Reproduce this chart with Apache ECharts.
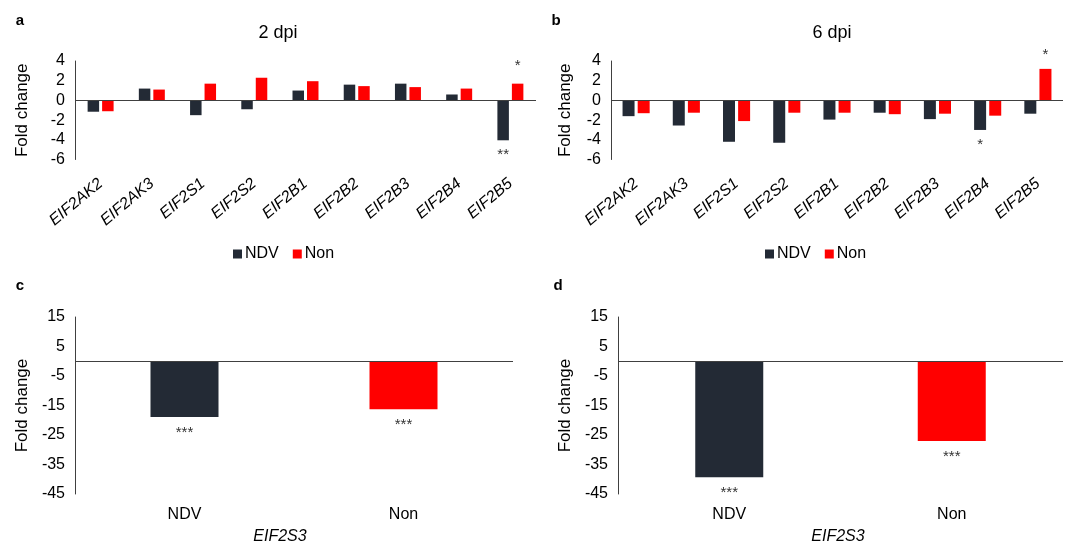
<!DOCTYPE html>
<html>
<head>
<meta charset="utf-8">
<script src="https://cdn.jsdelivr.net/npm/echarts@6/dist/echarts.min.js"></script>
<style>
  html, body { margin: 0; padding: 0; background: #fff; }
  #chart { width: 1070px; height: 546px; }
</style>
</head>
<body>
<div id="chart"></div>
<script>
// ---- data ----
const genes = ['EIF2AK2', 'EIF2AK3', 'EIF2S1', 'EIF2S2', 'EIF2B1', 'EIF2B2', 'EIF2B3', 'EIF2B4', 'EIF2B5'];
const ndv2dpi = [-1.15, 1.2, -1.5, -0.9, 1.0, 1.6, 1.7, 0.6, -4.05];
const non2dpi = [-1.1, 1.1, 1.7, 2.3, 1.95, 1.45, 1.35, 1.2, 1.7];
const ndv6dpi = [-1.6, -2.55, -4.2, -4.3, -1.95, -1.25, -1.9, -3.0, -1.35];
const non6dpi = [-1.3, -1.25, -2.1, -1.25, -1.25, -1.4, -1.35, -1.55, 3.2];
const sigNdv2 = ['', '', '', '', '', '', '', '', '**'];
const sigNon2 = ['', '', '', '', '', '', '', '', '*'];
const sigNdv6 = ['', '', '', '', '', '', '', '*', ''];
const sigNon6 = ['', '', '', '', '', '', '', '', '*'];
const groups = ['NDV', 'Non'];
const eif2s3_2dpi = [-18.9, -16.3];
const eif2s3_6dpi = [-39.3, -27.0];
const sigEif2s3 = ['***', '***'];
const geneAxisTicks = { min: -6, max: 4, interval: 2 };
const eif2s3AxisTicks = { min: -45, max: 15, interval: 10 };
const panelTitles = ['2 dpi', '6 dpi'];
const panelLetters = ['a', 'b', 'c', 'd'];

// ---- styles ----
const DARK = '#232a35';
const RED = '#ff0000';
const FONT = '"Liberation Sans", Arial, sans-serif';

const grids = [
  { left: 75, top: 61, width: 461, height: 98.5 },
  { left: 611, top: 61, width: 452, height: 98.5 },
  { left: 75, top: 317, width: 438, height: 177 },
  { left: 618, top: 317, width: 445, height: 177 }
];

function xAxisGenes(gi) {
  return {
    type: 'category', gridIndex: gi, data: genes,
    axisLine: { show: false }, axisTick: { show: false },
    axisLabel: { rotate: 40, margin: 22, fontSize: 16, fontStyle: 'italic', color: '#000', fontFamily: FONT, interval: 0 }
  };
}
function xAxisGroups(gi) {
  return {
    type: 'category', gridIndex: gi, data: groups,
    axisLine: { show: false }, axisTick: { show: false },
    axisLabel: { margin: 13, fontSize: 16, color: '#000', fontFamily: FONT }
  };
}
function yAxis(gi, ticks, nameGap) {
  return {
    type: 'value', gridIndex: gi, min: ticks.min, max: ticks.max, interval: ticks.interval,
    axisLine: { show: true, lineStyle: { color: '#404040', width: 1 } },
    axisTick: { show: false }, splitLine: { show: false },
    axisLabel: { fontSize: 16, color: '#000', margin: 10, fontFamily: FONT, showMinLabel: true, showMaxLabel: true },
    name: 'Fold change', nameLocation: 'middle', nameGap: nameGap,
    nameTextStyle: { fontSize: 17, color: '#000', fontFamily: FONT }
  };
}
const zeroLine = {
  silent: true, symbol: 'none', animation: false,
  label: { show: false },
  lineStyle: { color: '#404040', width: 1, type: 'solid' },
  data: [{ yAxis: 0 }]
};
function starLabel(arr, dist) {
  return {
    show: true, position: 'outside', distance: dist,
    formatter: p => arr[p.dataIndex], fontSize: 15, color: '#333', fontFamily: FONT
  };
}
function geneSeries(gi, name, data, color, sig, dist, withZero, bw) {
  const s = {
    type: 'bar', name: name, xAxisIndex: gi, yAxisIndex: gi, data: data,
    barWidth: bw, barGap: '26%', itemStyle: { color: color },
    label: starLabel(sig, dist)
  };
  if (withZero) s.markLine = zeroLine;
  return s;
}
function groupSeries(gi, name, data) {
  return {
    type: 'bar', name: name, xAxisIndex: gi, yAxisIndex: gi,
    data: data.map((v, i) => ({ value: v, itemStyle: { color: i === 0 ? DARK : RED } })),
    barWidth: 68, label: starLabel(sigEif2s3, 8), markLine: zeroLine
  };
}

const legendBase = {
  data: ['NDV', 'Non'], icon: 'rect', itemWidth: 9, itemHeight: 9, itemGap: 14,
  textStyle: { fontSize: 16, color: '#000', fontFamily: FONT, padding: [0, 0, 0, -2] },
  top: 241, selectedMode: false
};

function txt(x, y, text, size, extra) {
  return {
    type: 'text', x: x, y: y,
    style: Object.assign({ text: text, fill: '#000', font: size + 'px ' + FONT, textAlign: 'center', textVerticalAlign: 'middle' }, extra || {})
  };
}

const option = {
  animation: false,
  backgroundColor: '#fff',
  color: [DARK, RED],
  grid: grids,
  xAxis: [xAxisGenes(0), xAxisGenes(1), xAxisGroups(2), xAxisGroups(3)],
  yAxis: [yAxis(0, geneAxisTicks, 44), yAxis(1, geneAxisTicks, 37), yAxis(2, eif2s3AxisTicks, 44), yAxis(3, eif2s3AxisTicks, 44)],
  legend: [
    Object.assign({}, legendBase, { left: 228 }),
    Object.assign({}, legendBase, { left: 760 })
  ],
  series: [
    geneSeries(0, 'NDV', ndv2dpi, DARK, sigNdv2, 7, true, 11.5),
    geneSeries(0, 'Non', non2dpi, RED, sigNon2, 10, false, 11.5),
    geneSeries(1, 'NDV', ndv6dpi, DARK, sigNdv6, 7, true, 12),
    geneSeries(1, 'Non', non6dpi, RED, sigNon6, 7, false, 12),
    groupSeries(2, 'EIF2S3 2 dpi', eif2s3_2dpi),
    groupSeries(3, 'EIF2S3 6 dpi', eif2s3_6dpi)
  ],
  graphic: [
    txt(20, 21, panelLetters[0], 15, { font: 'bold 15px ' + FONT }),
    txt(556, 21, panelLetters[1], 15, { font: 'bold 15px ' + FONT }),
    txt(20, 286, panelLetters[2], 15, { font: 'bold 15px ' + FONT }),
    txt(558, 286, panelLetters[3], 15, { font: 'bold 15px ' + FONT }),
    txt(278, 33, panelTitles[0], 18),
    txt(832, 33, panelTitles[1], 18),
    txt(280, 537, 'EIF2S3', 16, { font: 'italic 16px ' + FONT }),
    txt(838, 537, 'EIF2S3', 16, { font: 'italic 16px ' + FONT })
  ]
};

const chart = echarts.init(document.getElementById('chart'), null, { renderer: 'canvas' });
chart.setOption(option);
</script>
</body>
</html>
